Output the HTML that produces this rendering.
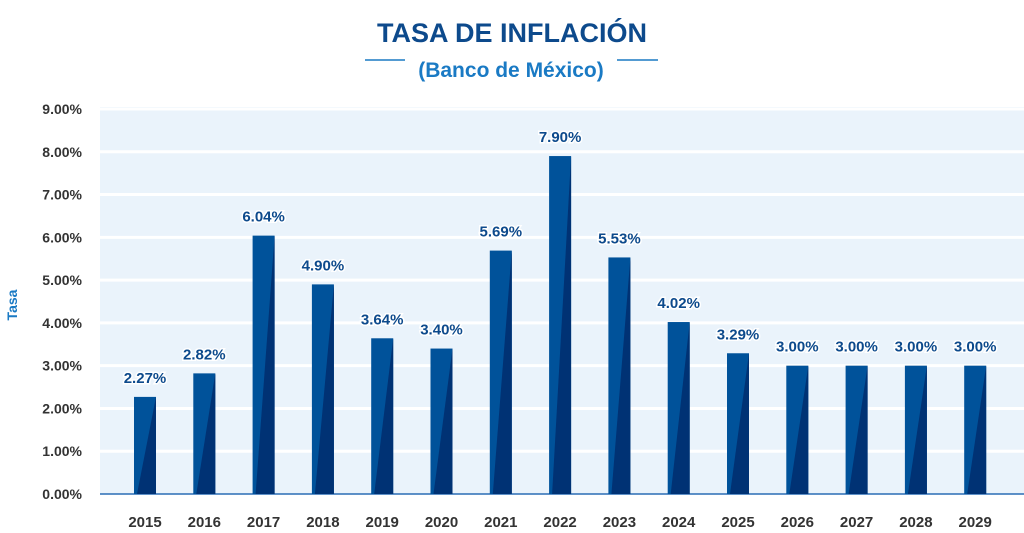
<!DOCTYPE html>
<html><head><meta charset="utf-8"><style>
html,body{margin:0;padding:0;background:#fff;width:1024px;height:533px;overflow:hidden}
svg text{font-family:"Liberation Sans",sans-serif}
</style></head><body>
<svg width="1024" height="533" viewBox="0 0 1024 533">
<text x="512" y="42" text-anchor="middle" font-size="27" font-weight="bold" fill="#0d4a8c">TASA DE INFLACIÓN</text>
<line x1="365" y1="60" x2="405" y2="60" stroke="#1a7ac4" stroke-width="1.5"/>
<line x1="617" y1="60" x2="658" y2="60" stroke="#1a7ac4" stroke-width="1.5"/>
<text x="511" y="77" text-anchor="middle" font-size="21" font-weight="bold" fill="#1a7ac4">(Banco de México)</text>
<text transform="translate(17,305) rotate(-90)" text-anchor="middle" font-size="14" font-weight="bold" fill="#1a7ac4">Tasa</text>
<g id="grid"></g><g id="bars"></g><g id="labels"></g>
</svg>
<script>
const years=["2015","2016","2017","2018","2019","2020","2021","2022","2023","2024","2025","2026","2027","2028","2029"];
const rates=[2.27,2.82,6.04,4.90,3.64,3.40,5.69,7.90,5.53,4.02,3.29,3.00,3.00,3.00,3.00];
const valueLabels=["2.27%","2.82%","6.04%","4.90%","3.64%","3.40%","5.69%","7.90%","5.53%","4.02%","3.29%","3.00%","3.00%","3.00%","3.00%"];
const yTicks=[0,1,2,3,4,5,6,7,8,9];
const yTickLabels=["0.00%","1.00%","2.00%","3.00%","4.00%","5.00%","6.00%","7.00%","8.00%","9.00%"];

const NS="http://www.w3.org/2000/svg";
const y0=494,y9=109,left=100,right=1024;
function yScale(v){return y0-(y0-y9)*v/9;}
function xScale(i){return 145+i*59.3;}
function mk(tag,attrs,parent,txt){const e=document.createElementNS(NS,tag);for(const k in attrs)e.setAttribute(k,attrs[k]);if(txt!==undefined)e.textContent=txt;parent.appendChild(e);return e;}
const grid=document.getElementById('grid'),bars=document.getElementById('bars'),labels=document.getElementById('labels');
const bg=mk('rect',{x:left,y:yScale(9)-2,width:right-left,height:y0-yScale(9)+2,fill:'#eaf3fb'},grid);


yTicks.forEach((t,k)=>{
  if(t>0){
    const g=mk('line',{x1:left,x2:right,y1:yScale(t),y2:yScale(t),stroke:'#fff','stroke-width':3},grid);
    
    
  }
  const tl=mk('text',{x:82,y:yScale(t)+5,'text-anchor':'end','font-size':14,'font-weight':'bold',fill:'#333'},labels,yTickLabels[k]);
  
  
});
const base=mk('line',{x1:left,x2:right,y1:y0,y2:y0,stroke:'#2a6db5','stroke-width':1.5},grid);


years.forEach((yr,i)=>{
  const cx=xScale(i),w=22,x0=cx-w/2,x1=cx+w/2,top=yScale(rates[i]);
  const r=mk('rect',{x:x0,y:top,width:w,height:y0-top,fill:'#00529a'},bars);
  
  
  const p=mk('polygon',{points:`${x0+3},${y0} ${x1},${top} ${x1},${y0}`,fill:'#003274'},bars);
  
  
  const vl=mk('text',{x:cx,y:top-14,'text-anchor':'middle','font-size':15,'font-weight':'bold',fill:'#0d4a8c',stroke:'#fff','stroke-width':3,'paint-order':'stroke'},labels,valueLabels[i]);
  
  
  const xl=mk('text',{x:cx,y:527,'text-anchor':'middle','font-size':15,'font-weight':'bold',fill:'#333'},labels,yr);
  
  
});
</script>
</body></html>
